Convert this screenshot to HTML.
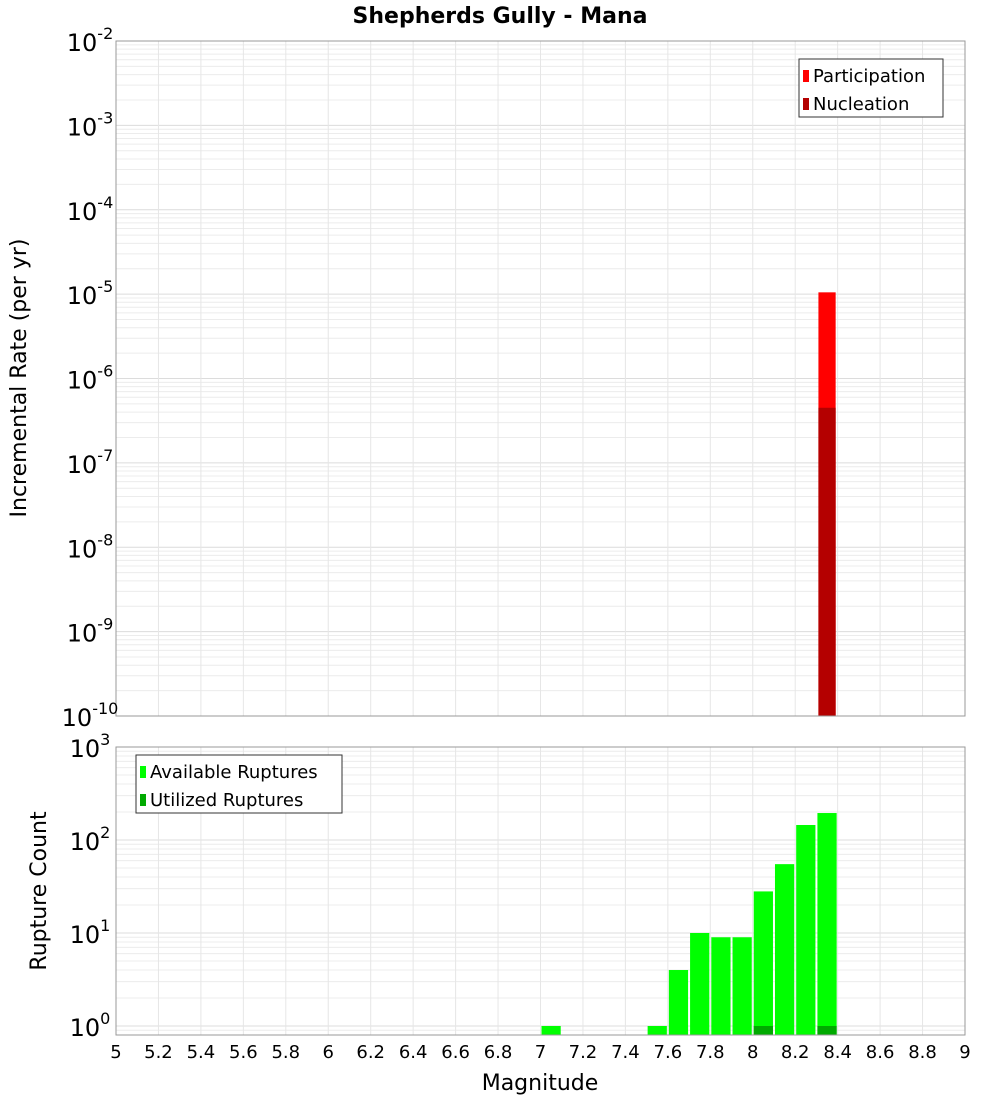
<!DOCTYPE html>
<html><head><meta charset="utf-8"><style>
body{margin:0;background:#fff;font-family:"Liberation Sans","DejaVu Sans",sans-serif}
svg text{font-family:"DejaVu Sans","Liberation Sans",sans-serif}
</style></head><body>
<svg id="c" width="1000" height="1100" xmlns="http://www.w3.org/2000/svg">
<text x="500" y="23" text-anchor="middle" font-size="22" font-weight="bold">Shepherds Gully - Mana</text>
<text transform="translate(26,378) rotate(-90)" text-anchor="middle" font-size="22">Incremental Rate (per yr)</text>
<text transform="translate(46,891) rotate(-90)" text-anchor="middle" font-size="22">Rupture Count</text>
<text x="540" y="1090" text-anchor="middle" font-size="22">Magnitude</text>
<g id="g"></g>
</svg>
<script>
const magBins=[8.35];
const participation=[1.05e-5];
const nucleation=[4.5e-7];
const countBins=[7.05,7.55,7.65,7.75,7.85,7.95,8.05,8.15,8.25,8.35];
const available=[1,1,4,10,9,9,28,55,145,195];
const utilizedBins=[8.05,8.35];
const utilized=[1,1];
const xTicks=[5,5.2,5.4,5.6,5.8,6,6.2,6.4,6.6,6.8,7,7.2,7.4,7.6,7.8,8,8.2,8.4,8.6,8.8,9];
const topExp=[-10,-9,-8,-7,-6,-5,-4,-3,-2];
const botExp=[0,1,2,3];

const NS="http://www.w3.org/2000/svg",g=document.getElementById('g');
function el(t,a,p){const e=document.createElementNS(NS,t);for(const k in a)e.setAttribute(k,a[k]);(p||g).appendChild(e);return e;}
const X0=116,X1=965;
const x=m=>X0+(m-5)/4*(X1-X0);
const T0=41,T1=716;
const yT=v=>T1-(Math.log10(v)+10)/8*(T1-T0);
const B0=747,B1=1035,bPer=93;
const yB=v=>(B0+3*bPer)-Math.log10(v)*bPer;

function panel(top,bot,yf,lo,hi,name){
  const r=el('rect',{x:X0,y:top,width:X1-X0,height:bot-top,fill:'#fff',stroke:'none'});
  
  for(let e=lo;e<hi+1;e++)for(let k=1;k<10;k++){const v=Math.pow(10,e)*k;const yy=yf(v);if(yy<top||yy>bot)continue;
    const l=el('line',{x1:X0,x2:X1,y1:yy,y2:yy,stroke:k==1?'#dcdcdc':'#ececec','stroke-width':1});
    }
  xTicks.forEach(t=>{const l=el('line',{x1:x(t),x2:x(t),y1:top,y2:bot,stroke:'#e6e6e6'});
    });
}
panel(T0,T1,yT,-10,-2,'top');
panel(B0,B1,yB,-1,3,'bottom');

const bw=0.1*(X1-X0)/4;
magBins.forEach((m,i)=>{
  const b=el('rect',{x:x(m)-bw/2+2,y:yT(participation[i]),width:bw-4,height:T1-yT(participation[i]),fill:'#ff0000'});
  
  const n=el('rect',{x:x(m)-bw/2+2,y:yT(nucleation[i]),width:bw-4,height:T1-yT(nucleation[i]),fill:'#b40000'});
  
});
countBins.forEach((m,i)=>{
  const b=el('rect',{x:x(m)-bw/2+1,y:yB(available[i]),width:bw-2,height:B1-yB(available[i]),fill:'#00ff00'});
  
});
utilizedBins.forEach((m,i)=>{
  const b=el('rect',{x:x(m)-bw/2+1,y:yB(utilized[i]),width:bw-2,height:B1-yB(utilized[i]),fill:'#00aa00'});
  
});
[[T0,T1],[B0,B1]].forEach(([a,b])=>{const r=el('rect',{x:X0,y:a,width:X1-X0,height:b-a,fill:'none',stroke:'#999'});
  });

function expLabel(e,yy,name){
  const t=el('text',{x:104,y:yy+10,'text-anchor':'end','font-size':24});
  
  t.textContent='10';
  const s=el('tspan',{dy:-12,'font-size':16},t);s.textContent=String(e);
  t.setAttribute('x',String(90));t.setAttribute('text-anchor','middle');
}
topExp.forEach(e=>expLabel(e,yT(Math.pow(10,e)),'top-y-tick-label'));
botExp.forEach(e=>expLabel(e,yB(Math.pow(10,e)),'bottom-y-tick-label'));
xTicks.forEach(t=>{const tx=el('text',{x:x(t),y:1058,'text-anchor':'middle','font-size':18});
  
  tx.textContent=String(Math.round(t*10)/10);});

function legend(x0,y0,w,items,name){
  const b=el('rect',{x:x0,y:y0,width:w,height:58,fill:'#fff',stroke:'#333'});
  
  items.forEach(([c,lab],i)=>{
    const s=el('rect',{x:x0+4,y:y0+11+i*28,width:6,height:12,fill:c});
    
    const t=el('text',{x:x0+14,y:y0+23+i*28,'font-size':18});
    t.textContent=lab;});
}
legend(799,59,144,[['#ff0000','Participation'],['#b40000','Nucleation']],'top-legend');
legend(136,755,206,[['#00ff00','Available Ruptures'],['#00aa00','Utilized Ruptures']],'bottom-legend');
</script>
</body></html>
